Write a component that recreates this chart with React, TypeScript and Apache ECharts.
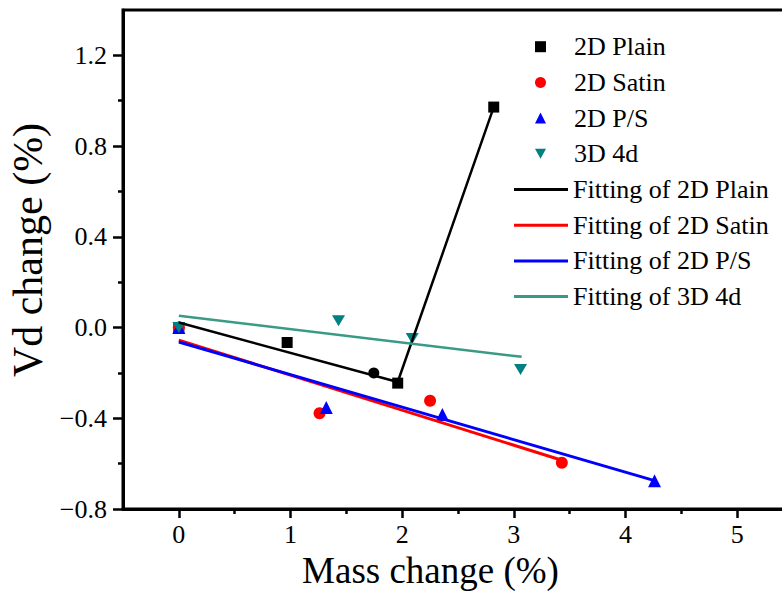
import React, { useEffect, useRef } from "react";
import * as echarts from "echarts";

// Measured points: mass change (%) vs Vd change (%)
const plainX = [0, 0.97, 1.96, 2.82];
const plainY = [0, -0.066, -0.245, 0.972];
const satinX = [0, 1.26, 2.25, 3.43];
const satinY = [0, -0.378, -0.323, -0.596];
const psX = [0, 1.32, 2.36, 4.26];
const psY = [0, -0.352, -0.383, -0.675];
const d4X = [0, 1.43, 2.09, 3.06];
const d4Y = [0, 0.03, -0.048, -0.185];

// Fitted lines (endpoints / break points)
const plainFitX = [0, 1.96, 2.82];
const plainFitY = [0.022, -0.24, 0.972];
const plainKnot = [1.746, -0.2];
const satinFitX = [0, 3.43];
const satinFitY = [-0.056, -0.585];
const psFitX = [0, 4.26];
const psFitY = [-0.064, -0.675];
const d4FitX = [0, 3.07];
const d4FitY = [0.052, -0.129];

// Axis ticks
const xMajor = [0, 1, 2, 3, 4, 5];
const xMinor = [0.5, 1.5, 2.5, 3.5, 4.5];
const yMajor = [-0.8, -0.4, 0, 0.4, 0.8, 1.2];
const yMinor = [-0.6, -0.2, 0.2, 0.6, 1.0];

const markerNames = ["2D Plain", "2D Satin", "2D P/S", "3D 4d"];
const fitNames = [
  "Fitting of 2D Plain",
  "Fitting of 2D Satin",
  "Fitting of 2D P/S",
  "Fitting of 3D 4d",
];

const FONT = "Liberation Serif";
const zip = (xs: number[], ys: number[]) => xs.map((x, i) => [x, ys[i]]);
const near = (v: number, list: number[]) => list.some((t) => Math.abs(t - v) < 1e-6);
const fmtY = (v: number) =>
  near(v, yMajor) ? (v < -1e-9 ? "\u2212" : "") + Math.abs(v).toFixed(1) : "";
const fmtX = (v: number) => (near(v, xMajor) ? String(Math.round(v)) : "");
const DOWN_TRI = "path://M0,0 L10,0 L5,9 Z";
const BAR = "path://M0,0 L54,0 L54,3 L0,3 Z";
const markerIcons = ["rect", "circle", "triangle", DOWN_TRI];

export default function App() {
  const ref = useRef<HTMLDivElement>(null);

  useEffect(() => {
    if (!ref.current) return;
    const chart = echarts.init(ref.current, undefined, { renderer: "svg" });

    const tickFont = { fontFamily: FONT, fontSize: 26, color: "#000" };
    const legendText = { fontFamily: FONT, fontSize: 26, color: "#000" };
    const ROW = 35.7;
    const LEGEND_TOP = 33.7;
    const tickStyle = { width: 2.5, color: "#000" };

    const fitLine = (name: string, xs: number[], ys: number[], color: string, width: number) => ({
      name,
      type: "line",
      data: zip(xs, ys),
      symbol: "none",
      showSymbol: false,
      lineStyle: { color, width },
      itemStyle: { color },
      z: 3,
    });

    chart.setOption({
      animation: false,
      backgroundColor: "#fff",
      textStyle: { fontFamily: FONT, color: "#000" },
      grid: {
        left: 123,
        top: 10,
        width: 670,
        height: 499,
        outerBoundsMode: "none",
        containLabel: false,
        show: true,
        borderColor: "#000",
        borderWidth: 3,
        backgroundColor: "transparent",
      },
      legend: [
        {
          data: markerNames.map((n, i) => ({ name: n, icon: markerIcons[i] })),
          orient: "vertical",
          left: 535,
          top: LEGEND_TOP,
          padding: 0,
          itemWidth: 11,
          itemHeight: 11,
          itemGap: ROW - 26,
          textStyle: { ...legendText, padding: [0, 0, 0, 23] },
        },
        {
          data: fitNames.map((n) => ({ name: n, icon: BAR })),
          orient: "vertical",
          left: 514,
          top: LEGEND_TOP + ROW * 4,
          padding: 0,
          itemWidth: 54,
          itemHeight: 3,
          itemGap: ROW - 26,
          textStyle: legendText,
        },
      ],
      xAxis: [
        {
          type: "value",
          min: -0.5,
          max: 5.5,
          interval: 0.5,
          axisLine: { show: true, onZero: false, lineStyle: { color: "#000", width: 3 } },
          splitLine: { show: false },
          name: "Mass change (%)",
          nameLocation: "middle",
          nameGap: 40,
          nameTextStyle: { fontFamily: FONT, fontSize: 37, color: "#000", padding: [0, 55, 0, 0] },
          axisTick: { show: true, length: 9, lineStyle: tickStyle, customValues: xMajor },
          axisLabel: { ...tickFont, margin: 12, formatter: fmtX },
        },
        {
          type: "value",
          min: -0.5,
          max: 5.5,
          position: "bottom",
          axisLine: { show: false, onZero: false },
          splitLine: { show: false },
          axisLabel: { show: false },
          axisTick: { show: true, length: 5, lineStyle: tickStyle, customValues: xMinor },
        },
      ],
      yAxis: [
        {
          type: "value",
          min: -0.8,
          max: 1.4,
          interval: 0.2,
          axisLine: { show: true, onZero: false, lineStyle: { color: "#000", width: 3 } },
          splitLine: { show: false },
          name: "Vd change (%)",
          nameLocation: "middle",
          nameGap: 68,
          nameTextStyle: { fontFamily: FONT, fontSize: 42, color: "#000", padding: [0, 0, 0, 19] },
          axisTick: { show: true, length: 10, lineStyle: tickStyle, customValues: yMajor },
          axisLabel: { ...tickFont, margin: 16, formatter: fmtY },
        },
        {
          type: "value",
          min: -0.8,
          max: 1.4,
          position: "left",
          axisLine: { show: false, onZero: false },
          splitLine: { show: false },
          axisLabel: { show: false },
          axisTick: { show: true, length: 5, lineStyle: tickStyle, customValues: yMinor },
        },
      ],
      series: [
        {
          name: "2D Plain",
          type: "scatter",
          data: zip(plainX, plainY),
          symbol: "rect",
          symbolSize: 11,
          itemStyle: { color: "#000", opacity: 1 },
          z: 2,
        },
        {
          name: "2D Satin",
          type: "scatter",
          data: zip(satinX, satinY),
          symbol: "circle",
          symbolSize: 12,
          itemStyle: { color: "#ff0000", opacity: 1 },
          z: 2,
        },
        {
          name: "2D P/S",
          type: "scatter",
          data: zip(psX, psY),
          symbol: "triangle",
          symbolSize: 13,
          itemStyle: { color: "#0000ff", opacity: 1 },
          z: 2,
        },
        {
          name: "3D 4d",
          type: "scatter",
          data: zip(d4X, d4Y),
          symbol: DOWN_TRI,
          symbolSize: [13, 11],
          itemStyle: { color: "#008080", opacity: 1 },
          z: 2,
        },
        fitLine("Fitting of 2D Plain", plainFitX, plainFitY, "#000", 2.5),
        fitLine("Fitting of 2D Satin", satinFitX, satinFitY, "#ff0000", 3),
        fitLine("Fitting of 2D P/S", psFitX, psFitY, "#0000ff", 3),
        fitLine("Fitting of 3D 4d", d4FitX, d4FitY, "#3a9a85", 2.5),
        {
          name: "knot",
          type: "scatter",
          data: [plainKnot],
          symbol: "circle",
          symbolSize: 11,
          itemStyle: { color: "#000", opacity: 1 },
          z: 4,
        },
      ],
    });

    return () => chart.dispose();
  }, []);

  return (
    <div
      ref={ref}
      style={{ position: "fixed", left: 0, top: 0, width: 782, height: 591, background: "#fff" }}
    />
  );
}
